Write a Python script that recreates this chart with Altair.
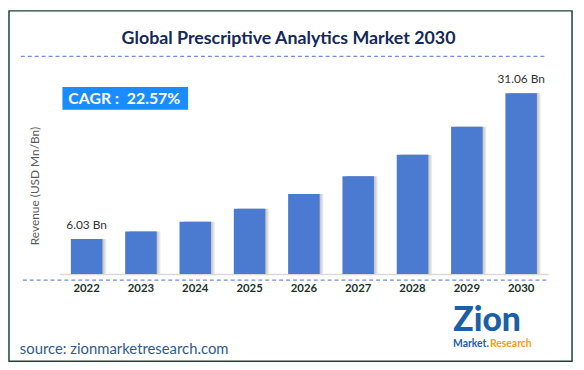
import altair as alt
import pandas as pd

years = ["2022", "2023", "2024", "2025", "2026", "2027", "2028", "2029", "2030"]
revenue = [6.03, 7.3, 9.0, 11.2, 13.75, 16.8, 20.5, 25.3, 31.06]
bar_labels = ["6.03 Bn", "", "", "", "", "", "", "", "31.06 Bn"]

title_text = "Global Prescriptive Analytics Market 2030"
cagr_text = "CAGR :\u00a0 22.57%"
y_title = "Revenue (USD Mn/Bn)"
source_text = "source: zionmarketresearch.com"

df = pd.DataFrame({"year": years, "revenue": revenue, "label": bar_labels})
one = pd.DataFrame({"k": [0]})

FONT = "Lato"
W, H = 494, 206

xenc = alt.X("year:N", sort=years,
             scale=alt.Scale(paddingInner=0.42, paddingOuter=0.21),
             axis=alt.Axis(title=None, labelAngle=0, ticks=False, domainColor="#d9d9d9",
                           domainWidth=1.5, labelFont=FONT, labelFontSize=11.5,
                           labelFontWeight="bold", labelColor="#1a3329", labelPadding=9))
yenc = alt.Y("revenue:Q", scale=alt.Scale(domain=[0, 35]), axis=None)

shadow = alt.Chart(df).mark_bar(
    xOffset=4,
    fill=alt.Gradient(gradient="linear", x1=0, x2=1, y1=0, y2=0,
                      stops=[alt.GradientStop(offset=0, color="#9a9a9a"),
                             alt.GradientStop(offset=0.8, color="#a0a0a0"),
                             alt.GradientStop(offset=1, color="#f4f4f4")])
).encode(x=xenc, y=yenc)

bars = alt.Chart(df).mark_bar(color="#4b7bd1").encode(x=xenc, y=yenc)

labels = alt.Chart(df).mark_text(font=FONT, fontSize=12, color="#333333", baseline="bottom", dy=-7).encode(
    x=alt.X("year:N", sort=years), y=yenc, text="label:N")

title = alt.Chart(one).mark_text(text=title_text, font=FONT, fontSize=18, fontWeight="bold",
                                 color="#14285a", align="center", baseline="middle").encode(
    x=alt.value(231.5), y=alt.value(-32))

dash_top = alt.Chart(one).mark_rule(color="#6f8fd6", strokeDash=[4, 3], strokeWidth=1.2).encode(
    x=alt.value(-39), x2=alt.value(492), y=alt.value(-14))
dash_bot = alt.Chart(one).mark_rule(color="#6f8fd6", strokeDash=[4, 3], strokeWidth=1.2).encode(
    x=alt.value(-37), x2=alt.value(494), y=alt.value(212))

cagr_box = alt.Chart(one).mark_rect(color="#1a8cff").encode(
    x=alt.value(3), x2=alt.value(130), y=alt.value(17), y2=alt.value(40))
cagr = alt.Chart(one).mark_text(text=cagr_text, font=FONT, fontSize=16, fontWeight="bold",
                                color="white", align="left", baseline="middle").encode(
    x=alt.value(9), y=alt.value(29))

ytitle = alt.Chart(one).mark_text(text=y_title, font=FONT, fontSize=12, color="#595959",
                                  angle=270, align="center", baseline="middle").encode(
    x=alt.value(-25), y=alt.value(117))

source = alt.Chart(one).mark_text(text=source_text, font=FONT, fontSize=15, color="#2f5b8c",
                                  align="left", baseline="middle").encode(
    x=alt.value(-40), y=alt.value(282))

logo_big = alt.Chart(one).mark_text(text="Zion", font=FONT, fontSize=34, fontWeight=900,
                                    color="#1a5fa8", align="left", baseline="alphabetic").encode(
    x=alt.value(398), y=alt.value(264))
logo_m = alt.Chart(one).mark_text(text="Market.", font=FONT, fontSize=10.5, fontWeight="bold",
                                  color="#1a5fa8", align="right", baseline="middle").encode(
    x=alt.value(434), y=alt.value(277))
logo_r = alt.Chart(one).mark_text(text="Research", font=FONT, fontSize=10.5, fontWeight="bold",
                                  color="#f0a020", align="left", baseline="middle").encode(
    x=alt.value(435), y=alt.value(277))

border = alt.Chart(one).mark_rect(fill=None, stroke="#1b4332", strokeWidth=1.5).encode(
    x=alt.value(-51), x2=alt.value(518), y=alt.value(-60), y2=alt.value(294))

chart = alt.layer(
    border, dash_top, dash_bot, shadow, bars, labels, title, cagr_box, cagr, ytitle,
    source, logo_big, logo_m, logo_r
).properties(
    width=W, height=H,
    padding={"left": 52, "top": 61, "right": 28, "bottom": 95},
    autosize=alt.AutoSizeParams(type="none"),
    background="white",
).configure_view(stroke=None)

chart.save("out.html", embed_options={"renderer": "svg", "actions": False})
